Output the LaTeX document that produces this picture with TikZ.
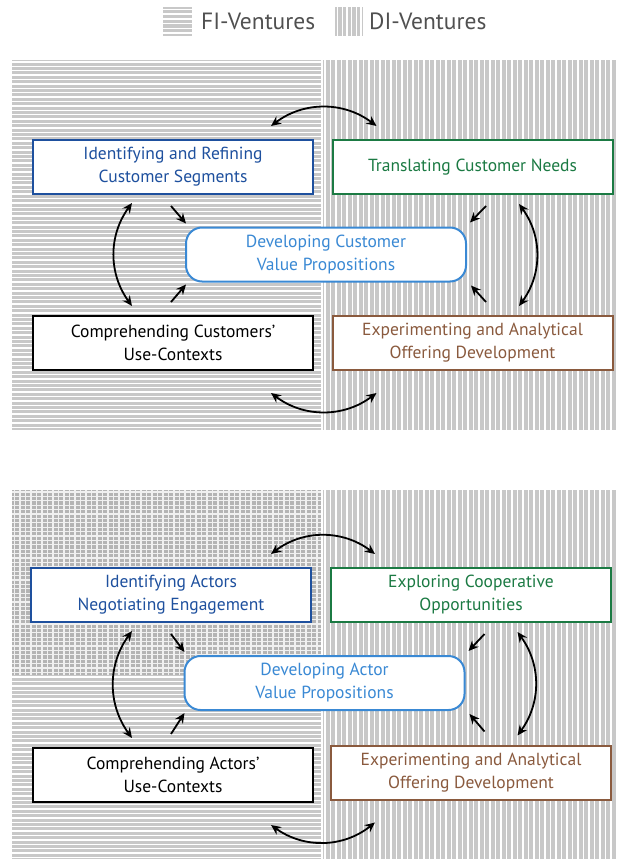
\documentclass[tikz,border=0pt]{standalone}
\usepackage{fontspec}
\setmainfont{PT Sans}
\usetikzlibrary{arrows.meta,calc}

\definecolor{segblue}{RGB}{30,80,158}
\definecolor{needgreen}{RGB}{27,122,67}
\definecolor{valueblue}{RGB}{58,137,212}
\definecolor{offerbrown}{RGB}{138,90,62}
\definecolor{stripegray}{RGB}{200,200,200}
\definecolor{gridgray}{RGB}{180,180,180}
\definecolor{legendgray}{RGB}{80,80,80}

\tikzset{
  stepbox/.style={draw, line width=2pt, fill=white, minimum width=280pt, minimum height=54pt,
    inner sep=0pt, align=center, font=\fontsize{17.5}{23}\selectfont},
  valuebox/.style={stepbox, draw=valueblue, text=valueblue, rounded corners=16pt},
  link/.style={line width=1.8pt, {Stealth[length=10pt,width=9pt]}-{Stealth[length=10pt,width=9pt]}},
  push/.style={line width=1.8pt, -{Stealth[length=10pt,width=9pt]}},
  gap/.style={white, line width=1.4pt},
  gridgap/.style={white!80!gridgray, line width=1.2pt},
  legendtext/.style={anchor=west, inner sep=0pt, text=legendgray, font=\fontsize{23.5}{26}\selectfont},
}

\begin{document}
\begin{tikzpicture}[x=1pt,y=-1pt]
\useasboundingbox (0,0) rectangle (616,861);

% legend
\fill[stripegray] (163,7) rectangle (192,36);
\foreach \y in {9.5,14.2,...,36} \draw[gap] (163,\y) -- (192,\y);
\fill[stripegray] (335,7) rectangle (363,36);
\foreach \x in {337.5,342.2,...,363} \draw[gap] (\x,7) -- (\x,36);
\node[legendtext] (fi) at (201,21) {FI-Ventures};
\node[legendtext] (di) at (369,21) {DI-Ventures};

% backgrounds, upper panel
\fill[stripegray] (12,60) rectangle (321,430);
\foreach \y in {62,66.4,...,430} \draw[gap] (12,\y) -- (321,\y);
\fill[stripegray] (322.5,60) rectangle (616,430);
\foreach \x in {325,330.5,...,616} \draw[gap] (\x,60) -- (\x,430);

% backgrounds, lower panel
\fill[gridgray] (12,490) rectangle (321,675);
\foreach \y in {492,496.4,...,675} \draw[gridgap] (12,\y) -- (321,\y);
\foreach \x in {14.5,20,...,321} \draw[gridgap] (\x,490) -- (\x,675);
\fill[stripegray] (12,675) rectangle (321,859);
\foreach \y in {677,681.4,...,859} \draw[gap] (12,\y) -- (321,\y);
\fill[stripegray] (322.5,490) rectangle (616,859);
\foreach \x in {325,330.5,...,616} \draw[gap] (\x,490) -- (\x,859);

% upper panel
\node[stepbox, draw=segblue, text=segblue] (seg) at (173,167) {Identifying and Refining\\Customer Segments};
\node[stepbox, draw=needgreen, text=needgreen] (needs) at (472.5,167) {Translating Customer Needs};
\node[valuebox] (cvp) at (326,254.5) {Developing Customer\\Value Propositions};
\node[stepbox] (ctx) at (173,343) {Comprehending Customers'\\Use-Contexts};
\node[stepbox, draw=offerbrown, text=offerbrown] (exp) at (472.5,343) {Experimenting and Analytical\\Offering Development};

\draw[link] ($(seg.north east)+(-43,-13)$) to[bend left=37] ($(needs.north west)+(45,-13)$);
\draw[link] ($(seg.south)+(-41,8)$) to[bend right=36] ($(ctx.north)+(-41,-9)$);
\draw[link] ($(needs.south)+(46.5,9)$) to[bend left=36] ($(exp.north)+(46.5,-9)$);
\draw[link] ($(ctx.south east)+(-43,22)$) to[bend right=37] ($(exp.south west)+(45,22)$);
\draw[push] ($(seg.south)+(-2,11)$) -- ($(cvp.north west)+(1,-3)$);
\draw[push] ($(ctx.north)+(-2,-13)$) -- ($(cvp.south west)+(1,2)$);
\draw[push] ($(needs.south)+(13.5,11)$) -- ($(cvp.north east)+(3,-4)$);
\draw[push] ($(exp.north)+(13.5,-13)$) -- ($(cvp.south east)+(4,3)$);

% lower panel
\node[stepbox, draw=segblue, text=segblue] (actors) at (171,595) {Identifying Actors\\Negotiating Engagement};
\node[stepbox, draw=needgreen, text=needgreen] (coop) at (471,595) {Exploring Cooperative\\Opportunities};
\node[valuebox] (avp) at (324.5,683) {Developing Actor\\Value Propositions};
\node[stepbox] (actx) at (173,775) {Comprehending Actors'\\Use-Contexts};
\node[stepbox, draw=offerbrown, text=offerbrown] (aexp) at (471,772.5) {Experimenting and Analytical\\Offering Development};

\draw[link] ($(actors.north east)+(-41,-13)$) to[bend left=37] ($(coop.north west)+(45,-13)$);
\draw[link] ($(actors.south)+(-39,8)$) to[bend right=36] ($(actx.north)+(-41,-9)$);
\draw[link] ($(coop.south)+(46.5,9)$) to[bend left=36] ($(aexp.north)+(46.5,-9)$);
\draw[link] ($(actx.south east)+(-43,22)$) to[bend right=37] ($(aexp.south west)+(45,22)$);
\draw[push] ($(actors.south)+(0,11)$) -- ($(avp.north west)+(1,-3)$);
\draw[push] ($(actx.north)+(-2,-13)$) -- ($(avp.south west)+(1,2)$);
\draw[push] ($(coop.south)+(13.5,11)$) -- ($(avp.north east)+(3,-4)$);
\draw[push] ($(aexp.north)+(13.5,-13)$) -- ($(avp.south east)+(4,3)$);
\end{tikzpicture}
\end{document}
